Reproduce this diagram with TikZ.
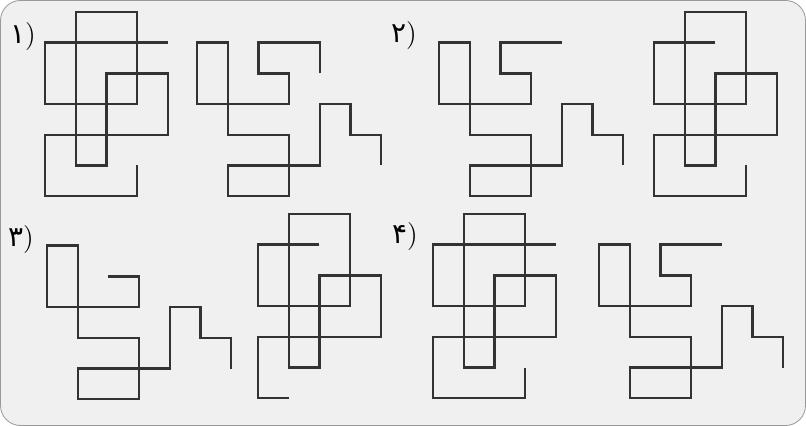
\documentclass[tikz,border=0pt]{standalone}
\usepackage{fontspec}
\newfontfamily\arabicfont[Script=Arabic]{DejaVu Sans}
\usepackage{tikz}
\usetikzlibrary{positioning}

\begin{document}
\begin{tikzpicture}[x=0.5pt, y=-0.5pt,
  panel/.style={draw=black!40, fill=black!6, rounded corners=10pt},
  fig/.style={draw=black!80, line width=1.2pt, line join=miter},
  grid/.style={x=15.35pt, y=-15.35pt},
  optlbl/.style={font=\fontsize{14}{16}\selectfont, inner sep=0pt}
]
\useasboundingbox (0,0) rectangle (806,426);
\draw[panel] (0.5,0.5) rectangle (805.5,425.5);

% Option 1
\node[optlbl] (opt1) at (23,37) {{\arabicfont ۱})};
\begin{scope}[shift={(45,12)}, grid]
  \draw[fig] (4,1) -- (0,1) -- (0,3) -- (3,3) -- (3,0) -- (1,0) -- (1,5) -- (2,5) -- (2,2)
    -- (4,2) -- (4,4) -- (0,4) -- (0,6) -- (3,6) -- (3,5);
\end{scope}
\begin{scope}[shift={(197,12)}, grid]
  \draw[fig] (4,2) -- (4,1) -- (2,1) -- (2,2) -- (3,2) -- (3,3) -- (0,3) -- (0,1) -- (1,1)
    -- (1,4) -- (3,4) -- (3,6) -- (1,6) -- (1,5) -- (4,5) -- (4,3) -- (5,3) -- (5,4) -- (6,4) -- (6,5);
\end{scope}

% Option 2
\node[optlbl] (opt2) at (404,36) {{\arabicfont ۲})};
\begin{scope}[shift={(439,12)}, grid]
  \draw[fig] (4,1) -- (2,1) -- (2,2) -- (3,2) -- (3,3) -- (0,3) -- (0,1) -- (1,1)
    -- (1,4) -- (3,4) -- (3,6) -- (1,6) -- (1,5) -- (4,5) -- (4,3) -- (5,3) -- (5,4) -- (6,4) -- (6,5);
\end{scope}
\begin{scope}[shift={(654,12)}, grid]
  \draw[fig] (2,1) -- (0,1) -- (0,3) -- (3,3) -- (3,0) -- (1,0) -- (1,5) -- (2,5) -- (2,2)
    -- (4,2) -- (4,4) -- (0,4) -- (0,6) -- (3,6) -- (3,5);
\end{scope}

% Option 3
\node[optlbl] (opt3) at (21,240) {{\arabicfont ۳})};
\begin{scope}[shift={(47,215)}, grid]
  \draw[fig] (2,2) -- (3,2) -- (3,3) -- (0,3) -- (0,1) -- (1,1)
    -- (1,4) -- (3,4) -- (3,6) -- (1,6) -- (1,5) -- (4,5) -- (4,3) -- (5,3) -- (5,4) -- (6,4) -- (6,5);
\end{scope}
\begin{scope}[shift={(258,214)}, grid]
  \draw[fig] (2,1) -- (0,1) -- (0,3) -- (3,3) -- (3,0) -- (1,0) -- (1,5) -- (2,5) -- (2,2)
    -- (4,2) -- (4,4) -- (0,4) -- (0,6) -- (1,6);
\end{scope}

% Option 4
\node[optlbl] (opt4) at (405,237) {{\arabicfont ۴})};
\begin{scope}[shift={(433,214)}, grid]
  \draw[fig] (4,1) -- (0,1) -- (0,3) -- (3,3) -- (3,0) -- (1,0) -- (1,5) -- (2,5) -- (2,2)
    -- (4,2) -- (4,4) -- (0,4) -- (0,6) -- (3,6) -- (3,5);
\end{scope}
\begin{scope}[shift={(599,214)}, grid]
  \draw[fig] (4,1) -- (2,1) -- (2,2) -- (3,2) -- (3,3) -- (0,3) -- (0,1) -- (1,1)
    -- (1,4) -- (3,4) -- (3,6) -- (1,6) -- (1,5) -- (4,5) -- (4,3) -- (5,3) -- (5,4) -- (6,4) -- (6,5);
\end{scope}
\end{tikzpicture}
\end{document}
